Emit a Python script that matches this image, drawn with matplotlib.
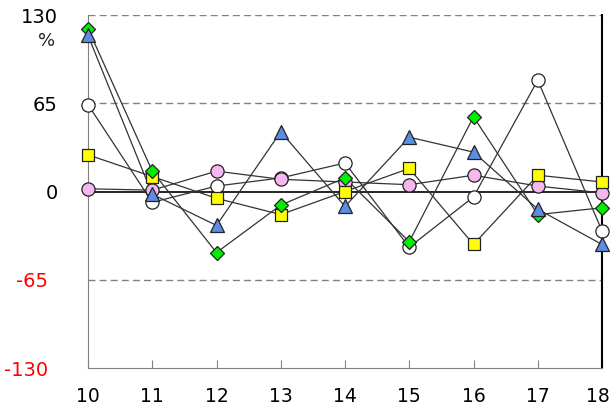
import matplotlib
matplotlib.use('Agg')
import matplotlib.pyplot as plt
import matplotlib.transforms as mtransforms

# chart values
x = [10, 11, 12, 13, 14, 15, 16, 17, 18]
open_circle = [64, -8, 4, 10, 21, -41, -4, 82, -29]
yellow_sq = [27, 11, -5, -17, 0, 17, -39, 12, 7]
pink_circle = [2, 1, 15, 9, 7, 5, 12, 4, -1]
green_dia = [120, 15, -45, -10, 10, -37, 55, -17, -12]
blue_tri = [115, -2, -25, 44, -11, 40, 29, -13, -39]

yticks = [130, 65, 0, -65, -130]
ytick_labels = ['130', '65', '0', '-65', '-130']

fig = plt.figure(figsize=(6.12, 4.12), dpi=100)
ax = fig.add_axes([88/612, 1-368/412, (602-88)/612, (368-15)/412])

ax.set_xlim(10, 18)
ax.set_ylim(-130, 130)

# grid lines
for g in [130, 65, -65]:
    ax.axhline(g, color='#808080', lw=1, ls=(0, (5, 3)), zorder=1)
ax.axhline(0, color='black', lw=1.2, zorder=1.5)

series = [
    (open_circle, 'o', 'white', 9.5),
    (pink_circle, 'o', '#F5B8EE', 9.5),
    (yellow_sq, 's', '#FFFF00', 9),
    (green_dia, 'D', '#00EE00', 7.5),
    (blue_tri, '^', '#5B8DE6', 10),
]
for vals, m, c, ms in series:
    ax.plot(x, vals, color='#333333', lw=0.9, zorder=2, clip_on=False)
for i, (vals, m, c, ms) in enumerate(series):
    ax.plot(x, vals, ls='none', marker=m, markersize=ms, markerfacecolor=c,
            markeredgecolor='#222222', markeredgewidth=0.9, zorder=3+i, clip_on=False)

# spines
ax.spines['top'].set_visible(False)
ax.spines['left'].set_color('#808080')
ax.spines['bottom'].set_color('#808080')
ax.spines['right'].set_color('black')
ax.spines['right'].set_linewidth(1.5)

ax.set_xticks(x)
ax.set_xticklabels([str(v) for v in x], fontsize=13.5)
ax.tick_params(axis='x', direction='in', length=6, color='#808080', pad=14)
# last label sits at the figure edge, nudge it in a bit
last = ax.get_xticklabels()[-1]
last.set_transform(last.get_transform() + mtransforms.ScaledTranslation(-4/100, 0, fig.dpi_scale_trans))

ax.set_yticks(yticks)
ax.set_yticklabels([])
ax.tick_params(axis='y', length=0)
trans = mtransforms.blended_transform_factory(fig.transFigure, ax.transData)
trans = mtransforms.offset_copy(trans, fig=fig, y=-2, units='dots')
for v, lab in zip(yticks, ytick_labels):
    if v < 0:
        ax.text(48/612, v, lab, transform=trans, ha='right', va='center',
                fontsize=14, color='#FF0000')
    else:
        ax.text(58/612, v, lab, transform=trans, ha='right', va='center',
                fontsize=14, color='black')
fig.text(47/612, 1-41/412, '%', ha='center', va='center', fontsize=13, color='#222222')

plt.savefig('out.png', dpi=100)
